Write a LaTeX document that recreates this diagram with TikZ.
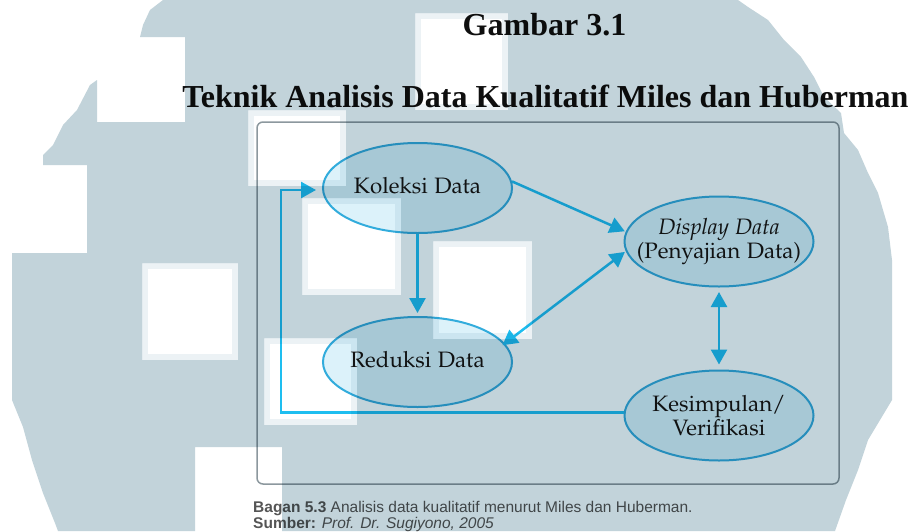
\documentclass[tikz,border=0pt]{standalone}
\usepackage[T1]{fontenc}
\usepackage{fontspec}
\usetikzlibrary{shapes.geometric,arrows.meta}
\newfontfamily\titlefont{Liberation Serif}
\newfontfamily\capfont{Liberation Sans}
% Palatino-like face for the chart labels, first one that is available
\IfFileExists{t1qpl.fd}{%
  \newcommand\diagfont{\fontencoding{T1}\fontfamily{qpl}\selectfont}}{%
\IfFileExists{t1pplx.fd}{%
  \newcommand\diagfont{\fontencoding{T1}\fontfamily{pplx}\selectfont}}{%
\IfFileExists{t1ppl.fd}{%
  \newcommand\diagfont{\fontencoding{T1}\fontfamily{ppl}\selectfont}}{%
\IfFileExists{texgyrepagella-regular.otf}{%
  \newfontfamily\diagfont{texgyrepagella-regular.otf}[
    ItalicFont=texgyrepagella-italic.otf,
    BoldFont=texgyrepagella-bold.otf]}{%
  \newfontfamily\diagfont{Liberation Serif}}}}}

\definecolor{wm}{RGB}{194,211,218}
\definecolor{wmsoft}{RGB}{236,242,245}
\definecolor{cyanline}{RGB}{30,190,240}
\definecolor{ellline}{RGB}{50,172,220}
\definecolor{ellfill}{RGB}{220,242,250}
\definecolor{boxline}{RGB}{140,152,158}
\definecolor{txt}{RGB}{22,22,22}
\definecolor{captxt}{RGB}{85,85,85}
\definecolor{titletxt}{RGB}{15,15,15}

\tikzset{
  ell/.style={ellipse, draw=ellline, line width=2pt, fill=ellfill,
    minimum width=189pt, minimum height=90pt,
    inner xsep=-40pt, inner ysep=-12pt,
    font=\diagfont\fontsize{22.3}{23.5}\selectfont, text=txt, align=center},
  arr/.style={draw=cyanline, line width=2.5pt, -{Triangle[length=15pt,width=16pt]}},
  dblarr/.style={draw=cyanline, line width=2.5pt,
    {Triangle[length=15pt,width=16pt]}-{Triangle[length=15pt,width=16pt]}},
  titlestyle/.style={anchor=base, inner sep=0pt, text=titletxt,
    font=\titlefont\bfseries\fontsize{32}{38}\selectfont},
  capstyle/.style={anchor=base west, inner sep=0pt, text=captxt,
    font=\capfont\fontsize{15.5}{16}\selectfont},
}

\begin{document}
\begin{tikzpicture}[x=1pt,y=-1pt]
\useasboundingbox (0,0) rectangle (911,531);
\fill[white] (0,0) rectangle (911,531);

% headings
\node[titlestyle] (fig) at (544.5,35) {Gambar 3.1};
\node[titlestyle] (head) at (545.5,107) {Teknik Analisis Data Kualitatif Miles dan Huberman};

% frame of the chart
\draw[boxline, line width=1.5pt, rounded corners=6pt] (257,122) rectangle (839,484);

% stages
\node[ell, text depth=6pt] (kol) at (417.5,188) {Koleksi Data};
\node[ell, text depth=6pt] (red) at (417.5,362) {Reduksi Data};
\node[ell] (disp) at (719,241.5) {\textit{Display Data}\\(Penyajian Data)};
\node[ell] (kes) at (719,415.5) {Kesimpulan/\\Verifikasi};
\coordinate (loopc) at (281,300);

% flows
\draw[arr, shorten >=3pt] (kol.south) -- (red.north);
\draw[arr, shorten >=1pt] (kol.4) -- (disp.174);
\draw[dblarr, shorten <=1pt, shorten >=-3pt] (disp.186) -- (red.12);
\draw[dblarr, shorten <=4.5pt, shorten >=5pt] (disp.south) -- (kes.north);
\draw[arr, shorten >=6pt] ([yshift=3pt]kes.west) -| (loopc) |- ([yshift=-2pt]kol.west);

% caption
\node[capstyle] (cap1) at (253,512) {\textbf{Bagan 5.3} Analisis data kualitatif menurut Miles dan Huberman.};
\node[capstyle] (cap2) at (253,528) {\textbf{Sumber:} \textit{Prof. Dr. Sugiyono, 2005}};

% background mark laid over the page
\begin{scope}[blend mode=multiply]
\fill[wm, even odd rule]
  (163,0) -- (738,0) -- (748,7) -- (768,20) -- (784,40) -- (801,57) -- (814,77)
  -- (824,97) -- (841,113) -- (844,133) -- (858,150) -- (868,173) -- (878,193)
  -- (888,227) -- (892,260) -- (892,400) -- (880,420) -- (868,440) -- (858,470)
  -- (846,500) -- (835,531) -- (282,531) -- (282,447) -- (195,447) -- (195,531)
  -- (58,531) -- (55,523) -- (43,493) -- (32,460) -- (23,427) -- (12,400)
  -- (12,253) -- (87,253) -- (87,165) -- (43,165) -- (43,155) -- (53,145)
  -- (63,125) -- (77,110) -- (90,85) -- (97,80) -- (97,122) -- (185,122)
  -- (185,37) -- (140,37) -- (143,25) -- (150,10) -- cycle
  (248,110) rectangle (346,186)
  (415,13) rectangle (508,110)
  (302,198) rectangle (401,295)
  (433,241) rectangle (532,339)
  (264,338) rectangle (357,425)
  (142,263) rectangle (238,360);
\draw[wmsoft, line width=6pt]
  (251,113) rectangle (343,183)
  (418,16) rectangle (505,107)
  (305,201) rectangle (398,292)
  (436,244) rectangle (529,336)
  (267,341) rectangle (354,422)
  (145,266) rectangle (235,357);
\end{scope}
\end{tikzpicture}
\end{document}
